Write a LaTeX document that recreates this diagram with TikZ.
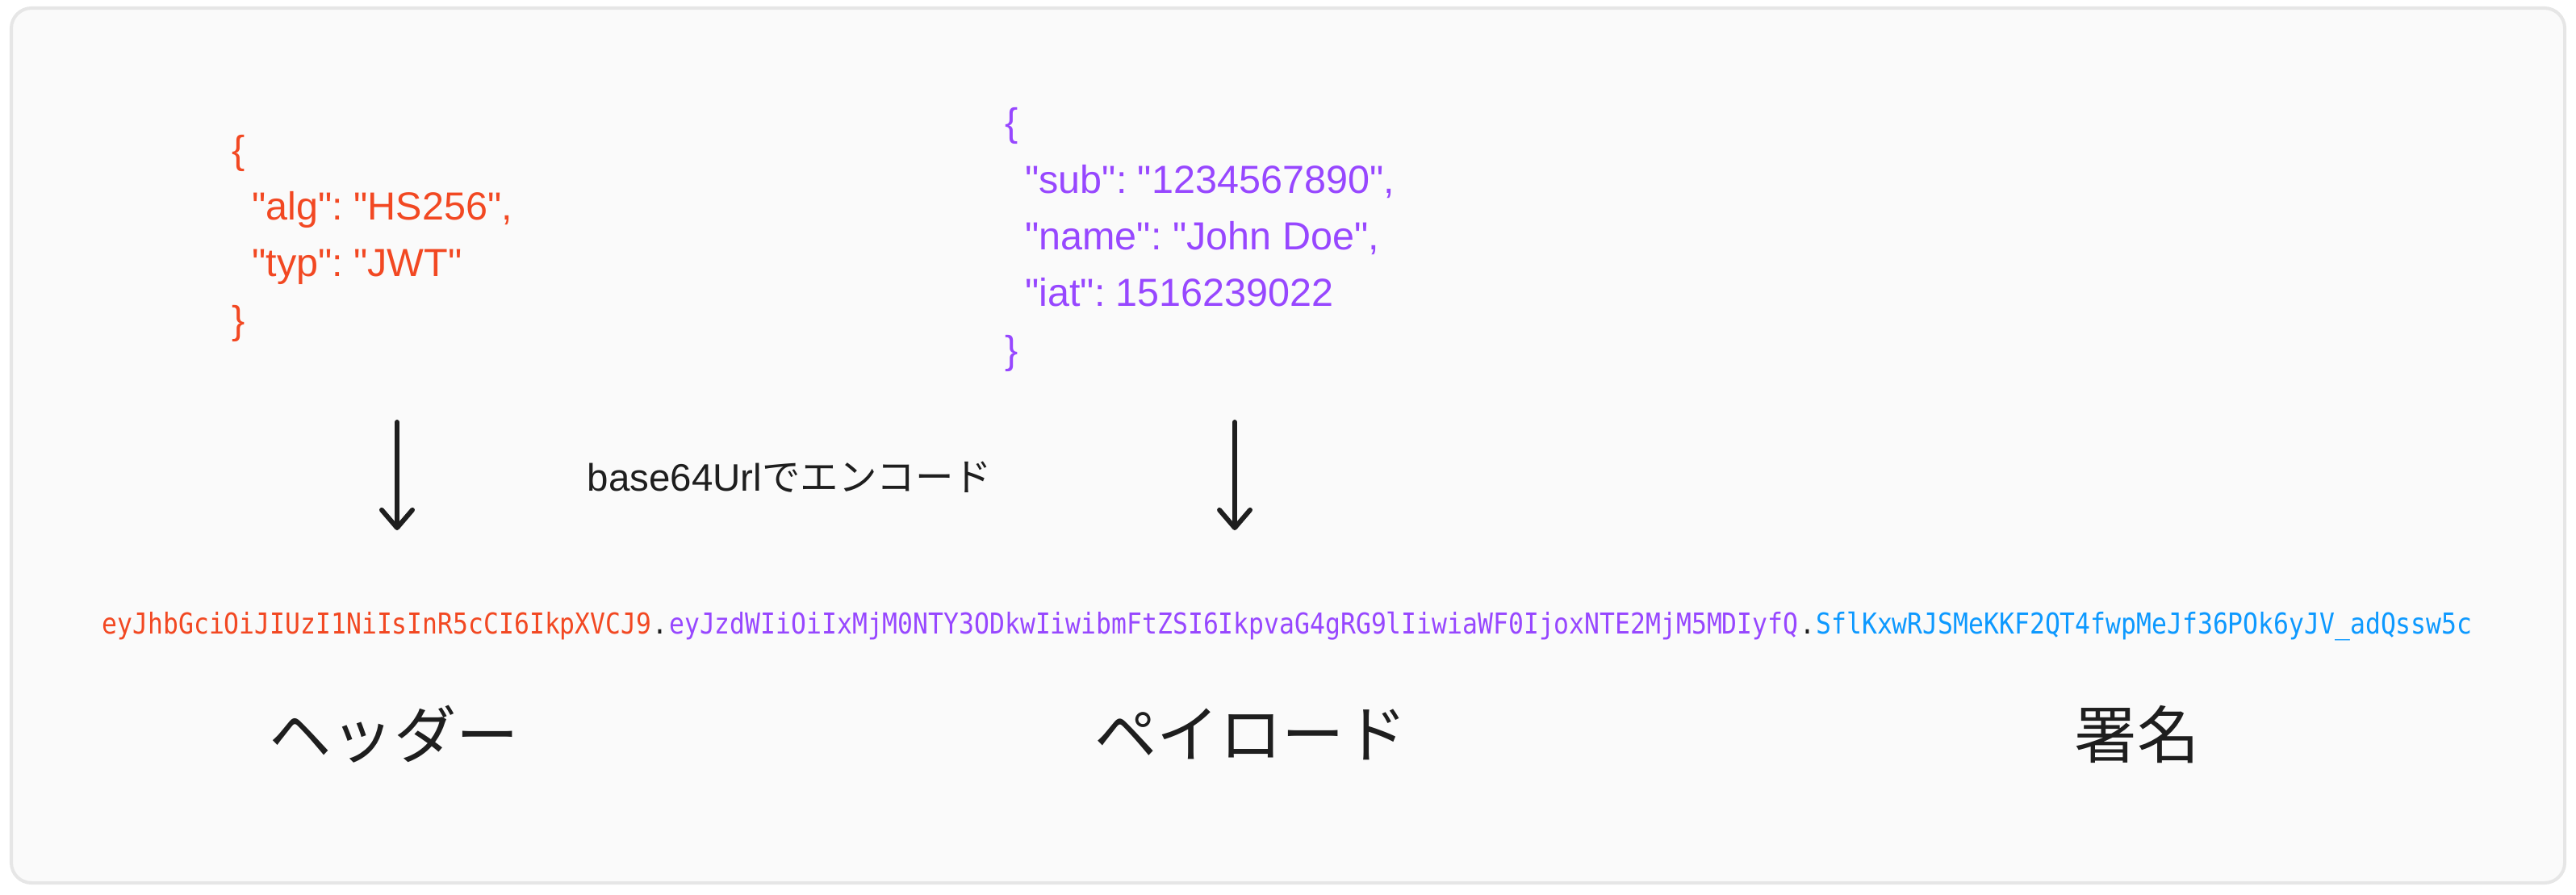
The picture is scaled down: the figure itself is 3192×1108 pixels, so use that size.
\documentclass[tikz,border=0pt]{standalone}
\usepackage{fontspec}
\setmainfont{Liberation Sans}[Ligatures=TeXOff]
\setmonofont{DejaVu Sans Mono}[FakeStretch=0.88]
\newfontfamily\jpfont{Noto Sans CJK JP}
\usetikzlibrary{arrows.meta}
\definecolor{hdrred}{HTML}{F24822}
\definecolor{plpurple}{HTML}{9747FF}
\definecolor{sigblue}{HTML}{0D99FF}
\definecolor{inkblack}{HTML}{1E1E1E}
\definecolor{boxgray}{HTML}{E6E6E6}
\definecolor{boxfill}{HTML}{FAFAFA}
\frenchspacing

\begin{document}
\begin{tikzpicture}[x=0.01cm,y=-0.01cm,
  json/.style={anchor=base west,inner sep=0,align=left,font=\fontsize{13.8}{20}\selectfont},
  tok/.style={anchor=base west,inner sep=0,font=\ttfamily\fontsize{10.15}{12}\selectfont},
  part/.style={inner sep=0,text=inkblack,font=\jpfont\fontsize{22}{26}\selectfont},
  enc/.style={line width=1.7pt,line cap=round,draw=inkblack,-{Straight Barb[length=6.3pt,width=10.8pt,round]}}]
\useasboundingbox (0,0) rectangle (3192,1108);
\filldraw[draw=boxgray,fill=boxfill,line width=1.15pt,rounded corners=0.25cm] (14,10) rectangle (3178,1094);

\node[json,text=hdrred] (hdrjson) at (287,413) {\{\\\hspace*{7pt}"alg": "HS256",\\\hspace*{7pt}"typ": "JWT"\\\}};
\node[json,text=plpurple] (pljson) at (1245,450) {\{\\\hspace*{7pt}"sub": "1234567890",\\\hspace*{7pt}"name": "John Doe",\\\hspace*{7pt}"iat": 1516239022\\\}};

\coordinate (hdrtop) at (492,523);
\coordinate (hdrtip) at (492,657);
\coordinate (pltop) at (1530,523);
\coordinate (pltip) at (1530,657);
\draw[enc] (hdrtop) -- (hdrtip);
\draw[enc] (pltop) -- (pltip);
\node[anchor=base west,inner sep=0,text=inkblack,font=\fontsize{13.5}{16}\selectfont] (enclabel) at (727,608) {base64Url{\jpfont でエンコード}};

\node[tok,text=hdrred] (tokhdr) at (126,785) {eyJhbGciOiJIUzI1NiIsInR5cCI6IkpXVCJ9};
\node[tok,text=inkblack] (dot1) at (tokhdr.base east) {.};
\node[tok,text=plpurple] (tokpl) at (dot1.base east) {eyJzdWIiOiIxMjM0NTY3ODkwIiwibmFtZSI6IkpvaG4gRG9lIiwiaWF0IjoxNTE2MjM5MDIyfQ};
\node[tok,text=inkblack] (dot2) at (tokpl.base east) {.};
\node[tok,text=sigblue] (toksig) at (dot2.base east) {SflKxwRJSMeKKF2QT4fwpMeJf36POk6yJV\_adQssw5c};

\node[part] (hdrlabel) at (488,910) {ヘッダー};
\node[part] (pllabel) at (1550,910) {ペイロード};
\node[part] (siglabel) at (2648,910) {署名};
\end{tikzpicture}
\end{document}
